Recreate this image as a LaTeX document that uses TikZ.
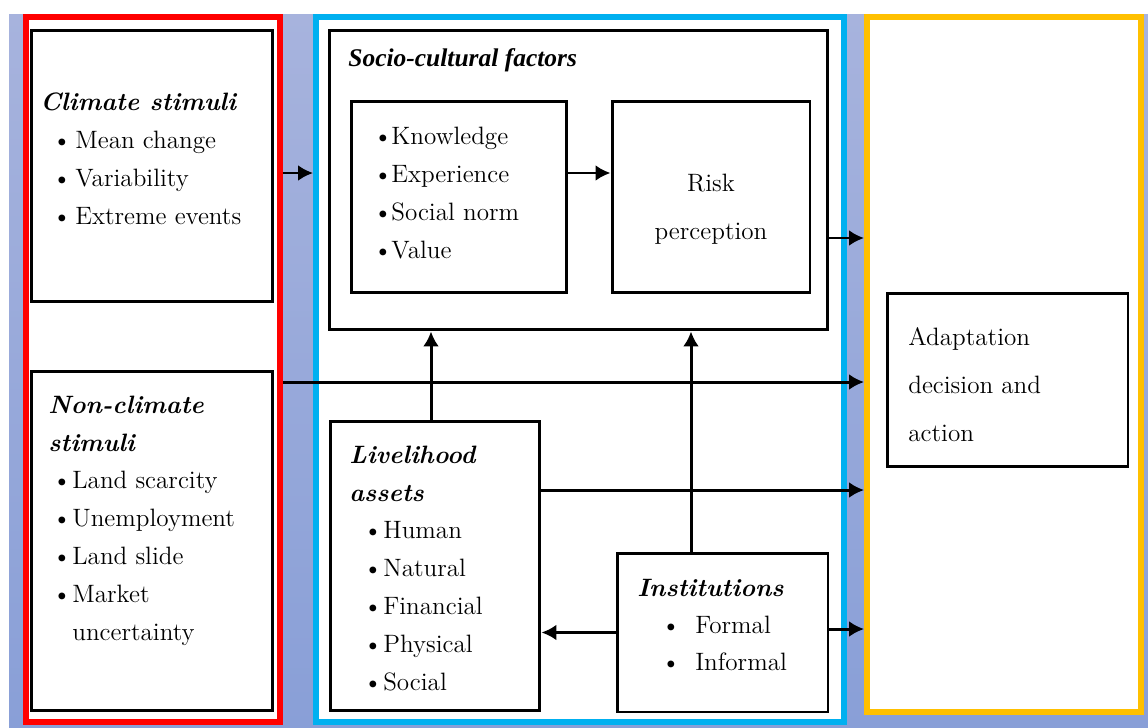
\documentclass[tikz,border=0pt]{standalone}
\usepackage{fontspec}
\usepackage{tikz}
\usetikzlibrary{arrows.meta,positioning,calc}
\newfontfamily\timesfont{Liberation Serif}
\definecolor{bgtop}{RGB}{167,179,221}
\definecolor{bgbot}{RGB}{137,159,215}
\definecolor{frred}{RGB}{255,0,0}
\definecolor{frcyan}{RGB}{0,176,240}
\definecolor{fryellow}{RGB}{255,192,0}
\newcommand{\bitem}[2]{\hspace*{#1}\makebox[#2][l]{\textbullet}}
\tikzset{
  panel/.style={draw,line width=3.4pt,fill=white,inner sep=0pt},
  blk/.style={draw=black,line width=1.7pt,fill=white,inner sep=0pt},
  txt/.style={align=left,inner sep=0pt,anchor=base west,font=\fontsize{14.3}{21.5}\selectfont},
  txtw/.style={txt,font=\fontsize{14.3}{27.1}\selectfont},
  arr/.style={-{Latex[length=0.3cm,width=0.32cm]},line width=1.7pt}
}

\begin{document}
\begin{tikzpicture}[x=0.02cm,y=-0.02cm]
  \useasboundingbox (0,0) rectangle (1148,727);
  \fill[top color=bgtop,bottom color=bgbot] (9,14) rectangle (1148,727);
  % three panels
  \node[panel,draw=frred,minimum width=5.08cm,minimum height=14.1cm] (redpanel) at (153,369.5) {};
  \node[panel,draw=frcyan,minimum width=10.56cm,minimum height=14.1cm] (bluepanel) at (580,369.5) {};
  \node[panel,draw=fryellow,minimum width=5.48cm,minimum height=13.9cm] (yellowpanel) at (1004,364.5) {};
  % boxes
  \node[blk,minimum width=4.84cm,minimum height=5.44cm] (climate) at (152,166) {};
  \node[blk,minimum width=4.84cm,minimum height=6.8cm] (noncl) at (152,541) {};
  \node[blk,minimum width=9.98cm,minimum height=6cm] (socio) at (578.5,180) {};
  \node[blk,minimum width=4.29cm,minimum height=3.81cm] (list) at (459,197) {};
  \node[blk,minimum width=3.96cm,minimum height=3.82cm] (risk) at (711,197) {};
  \node[blk,minimum width=4.2cm,minimum height=5.8cm] (liv) at (435,566) {};
  \node[blk,minimum width=4.22cm,minimum height=3.18cm] (inst) at (722.5,632.5) {};
  \node[blk,minimum width=4.82cm,minimum height=3.45cm] (adapt) at (1007.5,380) {};
  % texts (placed at the baseline of their last line)
  \node[txt] (climatetxt) at (40,224) {{\bfseries\itshape Climate stimuli}\\
    \bitem{0.24cm}{0.46cm}Mean change\\
    \bitem{0.24cm}{0.46cm}Variability\\
    \bitem{0.24cm}{0.46cm}Extreme events};
  \node[txt] (nonctxt) at (48,640) {{\bfseries\itshape Non-climate}\\
    {\bfseries\itshape stimuli}\\
    \bitem{0.08cm}{0.4cm}Land scarcity\\
    \bitem{0.08cm}{0.4cm}Unemployment\\
    \bitem{0.08cm}{0.4cm}Land slide\\
    \bitem{0.08cm}{0.4cm}Market\\
    \hspace*{0.48cm}uncertainty};
  \node[anchor=base west,inner sep=0pt,font=\timesfont\bfseries\itshape\fontsize{14.5}{17}\selectfont] (sociotitle) at (348,66) {Socio-cultural factors};
  \node[txt] (listtxt) at (373,258) {\bitem{0cm}{0.36cm}Knowledge\\
    \bitem{0cm}{0.36cm}Experience\\
    \bitem{0cm}{0.36cm}Social norm\\
    \bitem{0cm}{0.36cm}Value};
  \node[txtw,align=center,anchor=base] (risktxt) at (711,239) {Risk\\perception};
  \node[txt] (livtxt) at (349,690) {{\bfseries\itshape Livelihood}\\
    {\bfseries\itshape assets}\\
    \bitem{0.28cm}{0.4cm}Human\\
    \bitem{0.28cm}{0.4cm}Natural\\
    \bitem{0.28cm}{0.4cm}Financial\\
    \bitem{0.28cm}{0.4cm}Physical\\
    \bitem{0.28cm}{0.4cm}Social};
  \node[txt,font=\fontsize{14.3}{21}\selectfont] (insttxt) at (637,670) {{\bfseries\itshape Institutions}\\
    \bitem{0.48cm}{0.68cm}Formal\\
    \bitem{0.48cm}{0.68cm}Informal};
  \node[txtw] (adapttxt) at (908,441) {Adaptation\\decision and\\action};
  % arrows
  \draw[arr] ($(climate.east -| redpanel.east)+(0,7)$) -- ($(climate.east -| bluepanel.west)+(0,7)$);
  \draw[arr] ($(list.east)+(0,-24)$) -- ($(risk.west)+(0,-24)$);
  \draw[arr] ($(socio.east)+(0,58)$) -- ($(socio.east -| yellowpanel.west)+(0,58)$);
  \draw[arr] ($(redpanel.east)+(0,12.5)$) -- ($(redpanel.east -| yellowpanel.west)+(0,12.5)$);
  \draw[arr] ($(liv.east)+(0,-76)$) -- ($(liv.east -| yellowpanel.west)+(0,-76)$);
  \draw[arr] ($(inst.east)+(0,-3.5)$) -- ($(inst.east -| yellowpanel.west)+(0,-3.5)$);
  \draw[arr] (inst.west) -- (inst.west -| liv.east);
  \draw[arr] ($(liv.north)+(-4,0)$) -- ($(liv.north |- socio.south)+(-4,0)$);
  \draw[arr] ($(inst.north)+(-31.5,0)$) -- ($(inst.north |- socio.south)+(-31.5,0)$);
\end{tikzpicture}
\end{document}
